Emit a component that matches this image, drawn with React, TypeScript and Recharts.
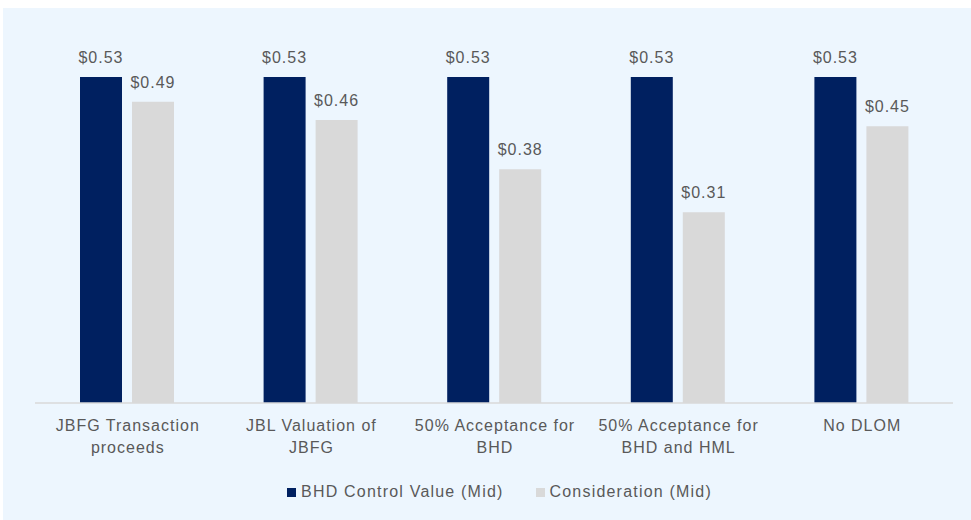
import { BarChart, Bar, XAxis, YAxis, LabelList, Text } from 'recharts';

const categories = [
    'JBFG Transaction proceeds',
    'JBL Valuation of JBFG',
    '50% Acceptance for BHD',
    '50% Acceptance for BHD and HML',
    'No DLOM',
];
const controlValue = [0.53, 0.53, 0.53, 0.53, 0.53];
const consideration = [0.49, 0.46, 0.38, 0.31, 0.45];
const seriesNames = ['BHD Control Value (Mid)', 'Consideration (Mid)'];
const colors = ['#002060', '#D9D9D9'];

const data = categories.map((name, i) => ({
    name,
    control: controlValue[i],
    consideration: consideration[i],
}));

const font = '"Liberation Sans", Arial, sans-serif';
const textColor = '#595959';

const fmt = (v: any) => `$${Number(v).toFixed(2)}`;

function Tick(props: any) {
    const { x, y, payload } = props;
    return (
        <Text
            x={x + 1}
            y={y}
            dy={9}
            width={150}
            textAnchor="middle"
            verticalAnchor="start"
            lineHeight={21.5}
            fontSize={16}
            letterSpacing={1}
            fontFamily={font}
            fill={textColor}
        >
            {payload.value}
        </Text>
    );
}

export default function App() {
    return (
        <div style={{ position: 'absolute', left: 0, top: 0, width: 971, height: 520, background: '#fff', overflow: 'hidden' }}>
            <div style={{ position: 'absolute', left: 3, top: 8, width: 968, height: 512, background: '#EDF6FE' }} />
            <div style={{ position: 'absolute', left: 0, top: 0 }}>
                <BarChart
                    width={971}
                    height={520}
                    data={data}
                    margin={{ top: 34, right: 18, bottom: 87, left: 35 }}
                    barGap={10}
                    barSize={42}
                >
                    <XAxis
                        dataKey="name"
                        height={30}
                        axisLine={{ stroke: '#D9D9D9', strokeWidth: 1.5 }}
                        tickLine={false}
                        interval={0}
                        tick={<Tick />}
                    />
                    <YAxis hide domain={[0, 0.6]} />
                    <Bar dataKey="control" name={seriesNames[0]} fill={colors[0]} isAnimationActive={false}>
                        <LabelList dataKey="control" position="top" offset={14} formatter={fmt} fill={textColor} fontSize={16} letterSpacing={1} fontFamily={font} />
                    </Bar>
                    <Bar dataKey="consideration" name={seriesNames[1]} fill={colors[1]} isAnimationActive={false}>
                        <LabelList dataKey="consideration" position="top" offset={14} formatter={fmt} fill={textColor} fontSize={16} letterSpacing={1} fontFamily={font} />
                    </Bar>
                </BarChart>
            </div>
            <div
                style={{
                    position: 'absolute',
                    left: 0,
                    top: 481,
                    width: 971,
                    display: 'flex',
                    justifyContent: 'center',
                    gap: 32,
                    fontFamily: font,
                    fontSize: 16,
                    letterSpacing: 1.2,
                    color: textColor,
                    lineHeight: '22px',
                    paddingLeft: 28,
                    boxSizing: 'border-box',
                }}
            >
                {seriesNames.map((n, i) => (
                    <div key={n} style={{ display: 'flex', alignItems: 'center' }}>
                        <span style={{ width: 9, height: 9, background: colors[i], marginRight: 5, display: 'inline-block' }} />
                        <span>{n}</span>
                    </div>
                ))}
            </div>
        </div>
    );
}
